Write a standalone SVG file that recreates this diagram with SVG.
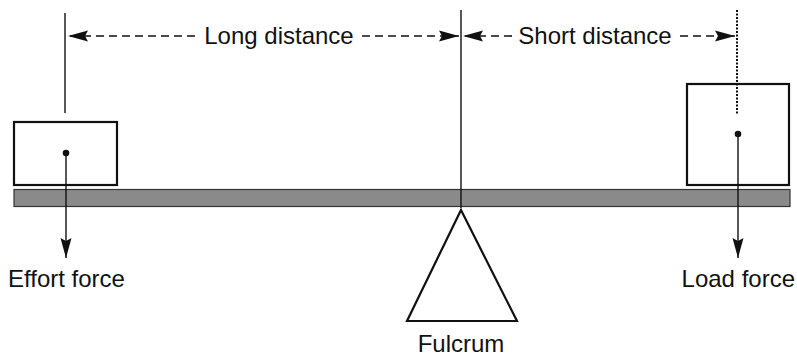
<svg xmlns="http://www.w3.org/2000/svg" width="797" height="358" viewBox="0 0 797 358">
<style>
.t{font-family:"Liberation Sans",Arial,sans-serif;font-size:24px;fill:#111}
.l{stroke:#111;stroke-width:1.4;fill:none}
.d{stroke:#111;stroke-width:1.6;stroke-dasharray:8 5;fill:none}
.b{stroke:#111;stroke-width:2.2;fill:#fff}
</style>
<defs>
<marker id="ah" viewBox="0 0 20 12" refX="20" refY="6" markerWidth="20" markerHeight="12" markerUnits="userSpaceOnUse" orient="auto">
<path d="M0,0.5 L20,6 L0,11.5 L3,6 Z" fill="#111"/>
</marker>
</defs>
<rect width="797" height="358" fill="#fff"/>
<g id="beam"><rect x="14" y="189.5" width="776" height="17" fill="#8a8a8a" stroke="#333" stroke-width="1.2"/></g>
<g id="effort-box"><rect class="b" x="14" y="122" width="103" height="63"/><circle cx="66" cy="153" r="3.3" fill="#111"/></g>
<g id="load-box"><rect class="b" x="687" y="84" width="102" height="101"/><circle cx="738" cy="134" r="3.3" fill="#111"/></g>
<g id="fulcrum"><path d="M461,210 L407,321 L517,321 Z" fill="#fff" stroke="#111" stroke-width="2.2" stroke-linejoin="miter"/></g>
<g id="connectors">
<line class="l" x1="65" y1="13" x2="65" y2="113"/>
<line class="l" x1="461" y1="10" x2="461" y2="208"/>
<line x1="737" y1="10" x2="737" y2="115" stroke="#111" stroke-width="2" stroke-dasharray="2 1.5"/>
<line class="l" x1="66" y1="153" x2="66" y2="258" marker-end="url(#ah)"/>
<line class="l" x1="738" y1="134" x2="738" y2="258" marker-end="url(#ah)"/>
<line class="d" x1="195" y1="36" x2="68" y2="36" marker-end="url(#ah)"/>
<line class="d" x1="362" y1="36" x2="459" y2="36" marker-end="url(#ah)"/>
<line class="d" x1="512" y1="36" x2="463" y2="36" marker-end="url(#ah)"/>
<line class="d" x1="680" y1="36" x2="735" y2="36" marker-end="url(#ah)"/>
</g>
<g id="labels">
<text class="t" x="279" y="44" text-anchor="middle">Long distance</text>
<text class="t" x="595" y="44" text-anchor="middle">Short distance</text>
<text class="t" x="8" y="287">Effort force</text>
<text class="t" x="795" y="287" text-anchor="end">Load force</text>
<text class="t" x="461" y="352" text-anchor="middle">Fulcrum</text>
</g>
</svg>
